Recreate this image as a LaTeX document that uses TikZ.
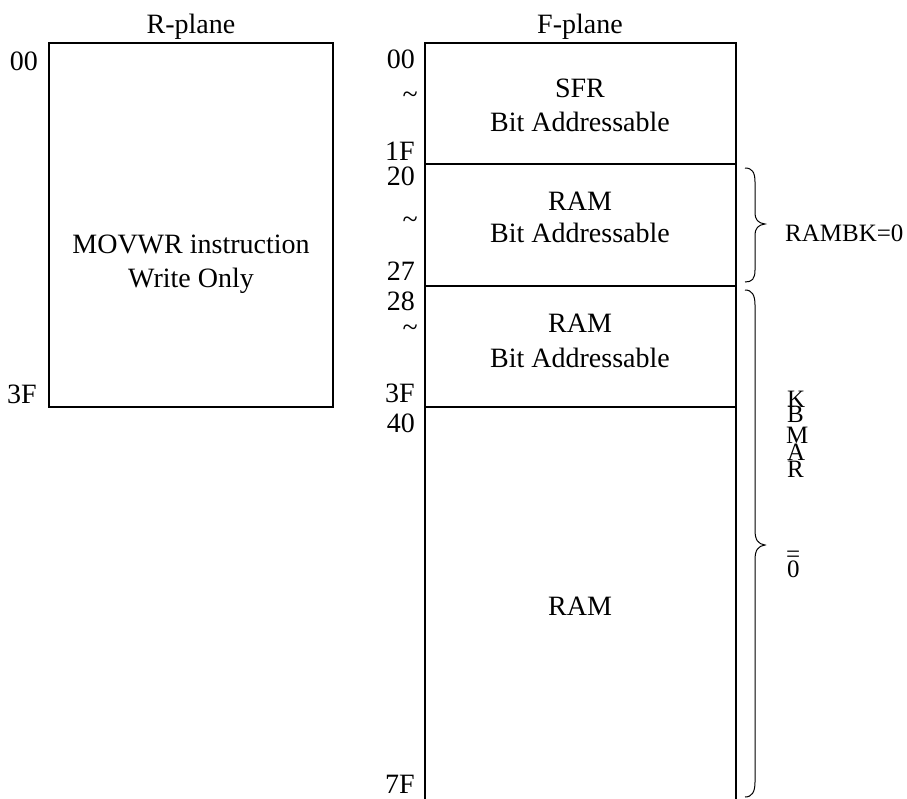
\documentclass[tikz,border=0pt]{standalone}
\usepackage{fontspec}
\setmainfont{Liberation Serif}
\begin{document}
\begin{tikzpicture}[x=1pt,y=-1pt,
  box/.style={line width=1.8pt, line cap=rect},
  brc/.style={line width=1pt},
  lbl/.style={inner sep=0pt, font=\fontsize{28}{33}\selectfont},
  sml/.style={inner sep=0pt, font=\fontsize{25}{30}\selectfont}]
\useasboundingbox (0,0) rectangle (907,798);
% R-plane
\coordinate (rtl) at (49,43);
\coordinate (rbr) at (333,407);
\draw[box] (rtl) rectangle (rbr);
\node[lbl, anchor=base] (rtitle) at (191,33) {R-plane};
\node[lbl, anchor=base east] (r00) at (38,70) {00};
\node[lbl, anchor=base east] (r3f) at (37,403) {3F};
\node[lbl, anchor=base] (rt1) at (191,253) {MOVWR instruction};
\node[lbl, anchor=base] (rt2) at (191,287) {Write Only};
% F-plane
\coordinate (fbl) at (425,798);
\coordinate (ftl) at (425,43);
\coordinate (ftr) at (736,43);
\coordinate (fbr) at (736,798);
\draw[box] (fbl) -- (ftl) -- (ftr) -- (fbr);
\coordinate (d1l) at (425,164); \coordinate (d1r) at (736,164);
\coordinate (d2l) at (425,286); \coordinate (d2r) at (736,286);
\coordinate (d3l) at (425,407); \coordinate (d3r) at (736,407);
\draw[box] (d1l) -- (d1r);
\draw[box] (d2l) -- (d2r);
\draw[box] (d3l) -- (d3r);
\node[lbl, anchor=base] (ftitle) at (580,33) {F-plane};
\node[lbl, anchor=base east] (f00) at (415,68) {00};
\node[lbl, anchor=base east] (ft1) at (418,103) {\textasciitilde};
\node[lbl, anchor=base east] (f1f) at (415,160) {1F};
\node[lbl, anchor=base east] (f20) at (415,185) {20};
\node[lbl, anchor=base east] (ft2) at (418,228) {\textasciitilde};
\node[lbl, anchor=base east] (f27) at (415,280) {27};
\node[lbl, anchor=base east] (f28) at (415,310) {28};
\node[lbl, anchor=base east] (ft3) at (418,336) {\textasciitilde};
\node[lbl, anchor=base east] (f3f) at (415,402) {3F};
\node[lbl, anchor=base east] (f40) at (415,432) {40};
\node[lbl, anchor=base east] (f7f) at (415,793) {7F};
% box texts
\node[lbl, anchor=base] (s1a) at (580,97) {SFR};
\node[lbl, anchor=base] (s1b) at (580,131) {Bit Addressable};
\node[lbl, anchor=base] (s2a) at (580,210) {RAM};
\node[lbl, anchor=base] (s2b) at (580,242) {Bit Addressable};
\node[lbl, anchor=base] (s3a) at (580,332) {RAM};
\node[lbl, anchor=base] (s3b) at (580,367) {Bit Addressable};
\node[lbl, anchor=base] (s4a) at (580,615) {RAM};
% braces
\coordinate (b1t) at (745,168);
\coordinate (b1m) at (765,224);
\coordinate (b1b) at (745,282);
\draw[brc] (b1t) .. controls (752,168) and (755,172) .. (755,182) -- (755,212)
  .. controls (755,220) and (758,223) .. (b1m)
  .. controls (758,225) and (755,228) .. (755,236) -- (755,270)
  .. controls (755,279) and (752,282) .. (b1b);
\coordinate (b2t) at (745,290);
\coordinate (b2m) at (765,545);
\coordinate (b2b) at (745,797);
\draw[brc] (b2t) .. controls (752,290) and (755,295) .. (755,305) -- (755,530)
  .. controls (755,540) and (758,544) .. (b2m)
  .. controls (758,546) and (755,550) .. (755,560) -- (755,782)
  .. controls (755,792) and (752,797) .. (b2b);
% labels
\node[sml, anchor=base west] (rk0) at (785,241) {RAMBK=0};
\node[sml, anchor=base west] (vk) at (787,407) {K};
\node[sml, anchor=base west] (vb) at (787,422) {B};
\node[sml, anchor=base west] (vm) at (786,443) {M};
\node[sml, anchor=base west] (va) at (787,460) {A};
\node[sml, anchor=base west] (vr) at (787,477) {R};
\node[sml, anchor=base west] (veq) at (786,562) {=};
\node[sml, anchor=base west] (vz) at (787,577) {0};
\end{tikzpicture}
\end{document}
